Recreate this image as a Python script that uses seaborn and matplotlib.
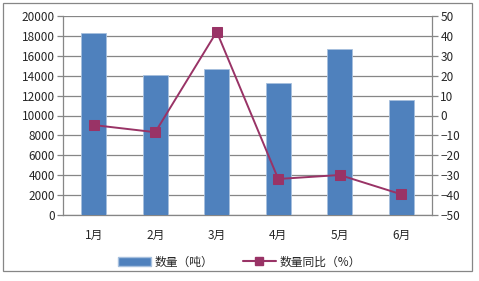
import matplotlib
matplotlib.use("Agg")
import matplotlib.pyplot as plt
import seaborn as sns
import pandas as pd
import numpy as np
from matplotlib.patches import Rectangle
from matplotlib.lines import Line2D
from matplotlib.patches import Patch

months = ["1月", "2月", "3月", "4月", "5月", "6月"]
quantity = [18260, 14070, 14640, 13230, 16650, 11530]
yoy = [-4.8, -8.4, 42.1, -31.9, -29.9, -39.6]

sns.set_style("white")
plt.rcParams['font.family'] = ['Noto Sans CJK SC', 'DejaVu Sans']

bar_color = "#4F81BD"
line_color = "#993366"
grid_color = "#868686"

fig = plt.figure(figsize=(4.79, 2.81), dpi=100)
ax = fig.add_axes([63/479, 1-215/281, (432-63)/479, (215-16)/281])

df = pd.DataFrame({"month": months, "quantity": quantity, "yoy": yoy})
sns.barplot(data=df, x="month", y="quantity", color=bar_color, width=0.41,
            saturation=1, ax=ax, edgecolor="#A7C0DE", linewidth=0.6, zorder=3)
ax.set_ylim(0, 20000)
ax.set_xlim(-0.5, 5.5)
ax.set_yticks(np.arange(0, 20001, 2000))
ax.set_xlabel("")
ax.set_ylabel("")
ax.yaxis.grid(True, color=grid_color, linewidth=0.9, zorder=0)
ax.set_axisbelow(True)
for s in ["top", "right"]:
    ax.spines[s].set_visible(False)
ax.spines["left"].set_color(grid_color)
ax.spines["bottom"].set_color(grid_color)
ax.spines["left"].set_linewidth(0.9)
ax.spines["bottom"].set_linewidth(0.9)
ax.set_xticks(range(len(months)))
ax.set_xticklabels(months)
ax.tick_params(axis="x", length=0, pad=10, labelsize=8.5)
ax.set_xticks(np.arange(-0.5, 6.0, 1.0), minor=True)
ax.tick_params(axis="x", which="minor", length=4, color=grid_color, width=0.9)
ax.tick_params(axis="y", length=4, color=grid_color, width=0.9, labelsize=8.5, pad=2)

ax2 = ax.twinx()
sns.lineplot(x=np.arange(len(months)), y=df["yoy"], ax=ax2, color=line_color,
             marker="s", markersize=7, markeredgecolor=line_color, linewidth=1.4,
             zorder=4)
ax2.set_ylim(-50, 50)
ax2.set_yticks(np.arange(-50, 51, 10))
ax2.set_ylabel("")
ax2.set_xlim(-0.5, 5.5)
for s in ["top", "left", "bottom"]:
    ax2.spines[s].set_visible(False)
ax2.spines["right"].set_color(grid_color)
ax2.spines["right"].set_linewidth(0.9)
ax2.tick_params(axis="y", length=4, color=grid_color, width=0.9, labelsize=8.5, pad=2)
ax2.set_yticklabels([("−" + str(abs(v))) if v < 0 else str(v) for v in range(-50, 51, 10)])

handles = [Patch(facecolor=bar_color, edgecolor="#A7C0DE"),
           Line2D([0], [0], color=line_color, marker="s", markersize=6, linewidth=1.5)]
fig.legend(handles, ["数量（吨）", "数量同比（%）"], loc="center",
           bbox_to_anchor=(0.5, 1-262/281), ncol=2, frameon=False, fontsize=8.5,
           handlelength=2.8, columnspacing=2.5, handletextpad=0.3)

fig.patches.append(Rectangle((3/479, 1-271/281), (472-3)/479, (271-3)/281,
                             transform=fig.transFigure, fill=False,
                             edgecolor=grid_color, linewidth=0.9))

fig.savefig("out.png", dpi=100)
